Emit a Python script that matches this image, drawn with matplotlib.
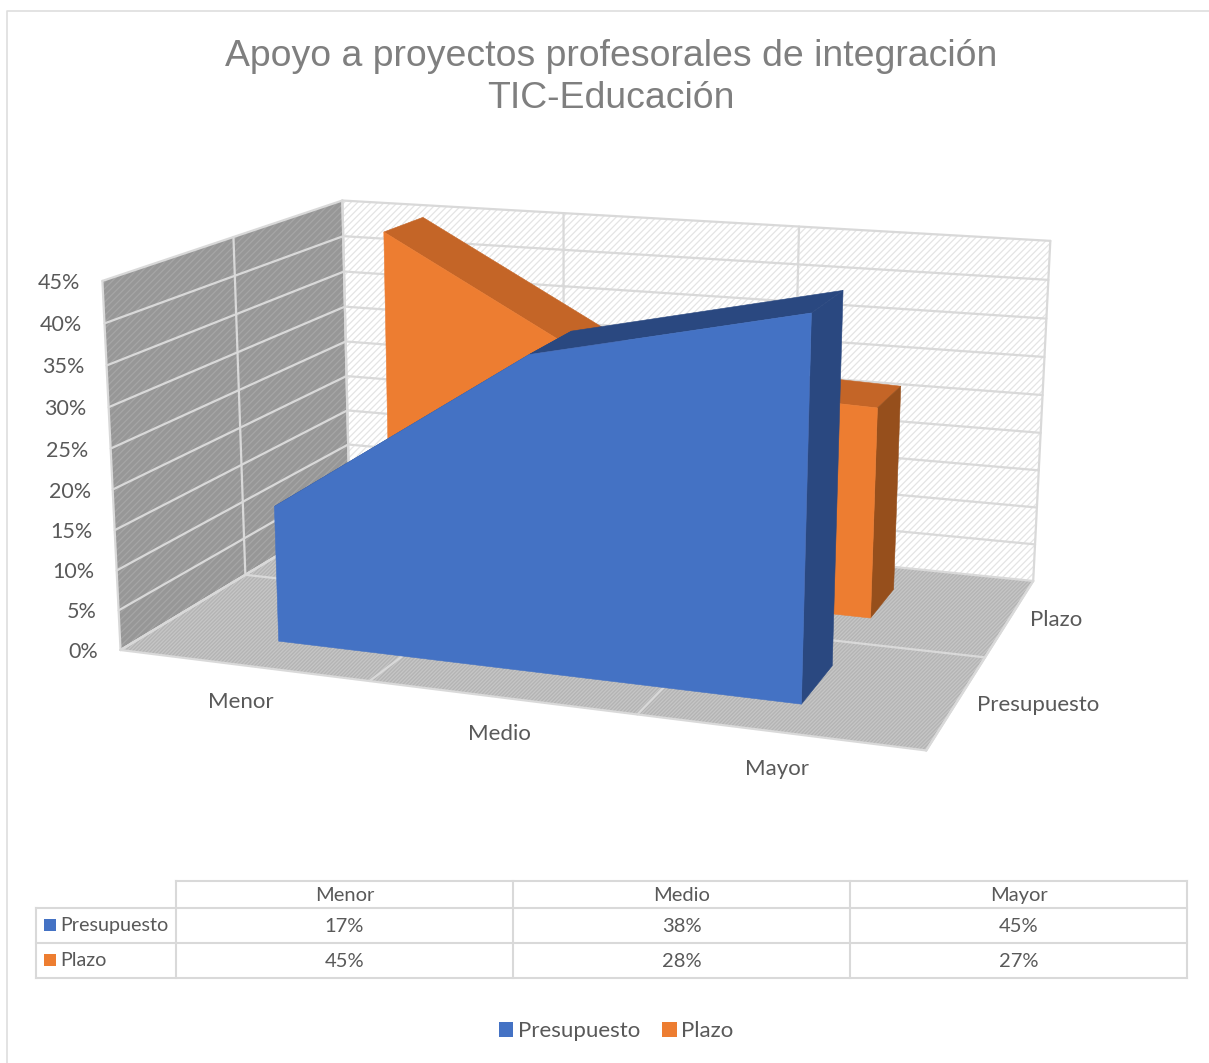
#!/usr/bin/env python3
# -*- coding: utf-8 -*-
import numpy as np
import matplotlib
matplotlib.use("Agg")
import matplotlib.pyplot as plt
from matplotlib.patches import Polygon, Patch

W, H = 1209, 1063

# ========== Data ==========
categories = ["Menor", "Medio", "Mayor"]
series_names = ["Presupuesto", "Plazo"]
presupuesto = [17, 38, 45]
plazo = [45, 28, 27]
value_ticks = [0, 5, 10, 15, 20, 25, 30, 35, 40, 45]
VMAX = 45.0

# ========== Styles ==========
BLUE, BLUE_DK = "#4472C4", "#2A4880"
ORANGE, ORANGE_TOP, ORANGE_SIDE = "#ED7D31", "#C46527", "#964F1C"
GRID = "#D9D9D9"
TXT = "#595959"
plt.rcParams["font.family"] = ["Lato", "DejaVu Sans"]
plt.rcParams["hatch.linewidth"] = 0.9

# box points (x, depth, height) -> pixel position, used to fit the camera
corners = [
    ((0, 0, 0), (120, 650)), ((1, 0, 0), (927, 750)),
    ((0, 1, 0), (349, 512)), ((1, 1, 0), (1034, 582)),
    ((0, 0, 1), (102, 281)), ((0, 1, 1), (343, 200)),
    ((1, 1, 1), (1050, 240)),
    ((0, 0.5, 0), (246, 574)), ((0, 0.5, 1), (233, 238)),
    ((1, 0.5, 0), (983, 657)),
    ((1/3, 1, 1), (564, 214)), ((2/3, 1, 1), (799, 226)),
    ((1/3, 0, 0), (370, 680)), ((2/3, 0, 0), (638, 716)),
]

def fit_camera(pairs):
    rows = []
    for (x, y, z), (u, v) in pairs:
        rows.append([x, y, z, 1, 0, 0, 0, 0, -u*x, -u*y, -u*z, -u])
        rows.append([0, 0, 0, 0, x, y, z, 1, -v*x, -v*y, -v*z, -v])
    return np.linalg.svd(np.array(rows, dtype=float))[2][-1].reshape(3, 4)

CAM = fit_camera(corners)

def proj(x, y, z):
    p = CAM @ np.array([x, y, z, 1.0])
    return p[0]/p[2], p[1]/p[2]

def line3d(ax, a, b, color=GRID, lw=1.6, zorder=2):
    pa, pb = proj(*a), proj(*b)
    ax.plot([pa[0], pb[0]], [pa[1], pb[1]], color=color, lw=lw, zorder=zorder,
            solid_capstyle="round")

def face(ax, pts, fc, zorder, hatch=None, hc=None):
    xy = [proj(*p) for p in pts]
    ax.add_patch(Polygon(xy, closed=True, facecolor=fc, edgecolor=hc if hatch else fc,
                         hatch=hatch, lw=0 if hatch else 0.4, zorder=zorder))

def area3d(ax, values, xs, y0, y1, c_front, c_top, c_side, zorder):
    h = [v/VMAX for v in values]
    for i in range(len(xs)-1):
        face(ax, [(xs[i], y0, h[i]), (xs[i+1], y0, h[i+1]),
                  (xs[i+1], y1, h[i+1]), (xs[i], y1, h[i])], c_top, zorder)
    face(ax, [(xs[-1], y0, 0), (xs[-1], y1, 0), (xs[-1], y1, h[-1]), (xs[-1], y0, h[-1])],
         c_side, zorder+0.1)
    front = [(xs[0], y0, 0), (xs[-1], y0, 0)]
    front += [(xs[i], y0, h[i]) for i in range(len(xs)-1, -1, -1)]
    face(ax, front, c_front, zorder+0.2)

# ========== Figure ==========
fig = plt.figure(figsize=(W/100, H/100), dpi=100)
ax = fig.add_axes([0, 0, 1, 1])
ax.set_xlim(0, W); ax.set_ylim(H, 0); ax.axis("off")

# chart frame
ax.plot([6.5, 6.5, W], [H, 10.5, 10.5], color="#DEDEDE", lw=1.2, zorder=1)

ax.text(611, 56, "Apoyo a proyectos profesorales de integración", ha="center", va="center",
        fontsize=26.9, color="#7F7F7F", family="Liberation Sans")
ax.text(611, 98, "TIC-Educación", ha="center", va="center",
        fontsize=26.9, color="#7F7F7F", family="Liberation Sans")

# walls and floor
face(ax, [(0, 1, 0), (1, 1, 0), (1, 1, 1), (0, 1, 1)], "#FFFFFF", 1, hatch="/////", hc="#E4E4E4")
face(ax, [(0, 0, 0), (0, 1, 0), (0, 1, 1), (0, 0, 1)], "#979797", 1, hatch="/////", hc="#A6A6A6")
face(ax, [(0, 0, 0), (1, 0, 0), (1, 1, 0), (0, 1, 0)], "#B4B4B4", 1, hatch="/////////", hc="#C6C6C6")

for v in value_ticks:
    z = v/VMAX
    line3d(ax, (0, 0, z), (0, 1, z))
    line3d(ax, (0, 1, z), (1, 1, z))
    px, py = proj(0, 0, z)
    ax.text(px-22, py+2, f"{v}%", ha="right", va="center", fontsize=15.5, color=TXT)
for i in range(len(categories)+1):
    xg = i/len(categories)
    line3d(ax, (xg, 0, 0), (xg, 1, 0))
    line3d(ax, (xg, 1, 0), (xg, 1, 1))
line3d(ax, (0, 0, 0), (0, 0, 1))
line3d(ax, (0, 0.5, 0), (0, 0.5, 1))
line3d(ax, (0, 0.5, 0), (1, 0.5, 0))
line3d(ax, (0, 1, 0), (0, 1, 1))
line3d(ax, (1, 0, 0), (1, 1, 0))
line3d(ax, (0, 0, 0), (0, 1, 0))
line3d(ax, (0, 0, 0), (1, 0, 0))

xs = [1/6, 3/6, 5/6]
area3d(ax, plazo, xs, 0.655, 0.85, ORANGE, ORANGE_TOP, ORANGE_SIDE, 3)
area3d(ax, presupuesto, xs, 0.145, 0.36, BLUE, BLUE_DK, BLUE_DK, 4)

# axis labels
for i, c in enumerate(categories):
    px, py = proj((i+0.5)/len(categories), 0, 0)
    ax.text(px-2, py+37, c, ha="center", va="center", fontsize=16, color=TXT)
for j, s in enumerate(series_names):
    px, py = proj(1, (j+0.5)/len(series_names), 0)
    ax.text(px+20, py+3, s, ha="left", va="center", fontsize=16, color=TXT)

# data table
col_x = [176, 513, 850, 1187]
row_y = [881, 908, 943, 978]
ax.plot([col_x[0], col_x[-1]], [row_y[0]]*2, color=GRID, lw=1.5, zorder=1)
for yl in row_y[1:]:
    ax.plot([36, col_x[-1]], [yl, yl], color=GRID, lw=1.5, zorder=1)
for xl in col_x:
    ax.plot([xl, xl], [row_y[0], row_y[-1]], color=GRID, lw=1.5, zorder=1)
ax.plot([36, 36], [row_y[1], row_y[-1]], color=GRID, lw=1.5, zorder=1)
for i, c in enumerate(categories):
    cx = (col_x[i]+col_x[i+1])/2
    ax.text(cx, (row_y[0]+row_y[1])/2+1, c, ha="center", va="center", fontsize=14.5, color=TXT)
    for r, vals in enumerate([presupuesto, plazo]):
        ax.text(cx, (row_y[r+1]+row_y[r+2])/2+1, f"{vals[i]}%", ha="center", va="center",
                fontsize=14.5, color=TXT)
for r, (s, col) in enumerate(zip(series_names, [BLUE, ORANGE])):
    yc = (row_y[r+1]+row_y[r+2])/2 - 1
    ax.add_patch(Polygon([(44, yc-6), (56, yc-6), (56, yc+6), (44, yc+6)], closed=True,
                         facecolor=col, lw=0, zorder=2))
    ax.text(60.5, yc+1, s, ha="left", va="center", fontsize=14.2, color=TXT)

# legend
handles = [Patch(facecolor=BLUE, label=series_names[0]), Patch(facecolor=ORANGE, label=series_names[1])]
ax.legend(handles=handles, loc="center", bbox_to_anchor=(616/W, 1-1031/H), ncols=2, frameon=False,
          fontsize=16, labelcolor=TXT, handlelength=0.65, handleheight=0.65,
          handletextpad=0.2, columnspacing=1.0)

fig.savefig("out.png", dpi=100)
